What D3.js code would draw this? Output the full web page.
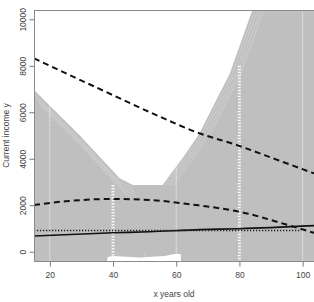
<!DOCTYPE html>
<html><head><meta charset="utf-8">
<script src="https://cdn.jsdelivr.net/npm/d3@7"></script>
<style>html,body{margin:0;padding:0;background:#fff;overflow:hidden}</style>
</head><body>
<svg id="c" width="314" height="302"></svg>
<script>
// ---- data ----
const xTicks = [20, 40, 60, 80, 100];
const yTicks = [0, 2000, 4000, 6000, 8000, 10000];
// grey band: upper boundary
const bandUpperAge = [15, 29.5, 42.1, 46.3, 55.7, 62.7, 67.4, 70.6, 73.7, 76.9, 84.1, 87, 104];
const bandUpperVal = [6960, 5000, 3160, 2870, 2870, 4160, 5095, 5968, 6800, 7650, 10400, 11500, 11500];
// grey band: lower boundary
const bandLowerAge = [104, 62, 61.4, 59.5, 56.3, 48.4, 40, 38.3, 36.7, 15];
const bandLowerVal = [-1500, -1500, -100, -100, -185, -250, -185, -228, -1500, -1500];
// curves
const dashTopAge = [15, 35, 55, 66, 80, 92, 103.6];
const dashTopVal = [8320, 7050, 5800, 5160, 4550, 3950, 3370];
const dashLowAge = [15, 25, 40, 52, 65, 80, 96, 103.6];
const dashLowVal = [2010, 2170, 2270, 2225, 2030, 1720, 1120, 810];
const solidAge = [15, 40, 51.6, 67.4, 80, 103.6];
const solidVal = [675, 815, 860, 950, 990, 1120];
const dotAge = [15, 99.5];
const dotVal = [910, 910];
// white streaks in the band
const thinStreakAges = [20, 50, 60, 100];
const thinStreakTops = [6300, -100, 3700, 10400];
const thickStreakAges = [40, 80];
const thickStreakTops = [2870, 8000];
const fanOffsets = [150, 320, 480, 650];

// ---- layout ----
const svg = d3.select('#c');
const L = 34, R = 314, T = 10, B = 261;
const x = d3.scaleLinear().domain([15, 103.6]).range([L, R]);
const y = d3.scaleLinear().domain([-400, 10400]).range([B, T]);

svg.append('defs').append('clipPath').attr('id', 'clip')
  .append('rect').attr('x', L).attr('y', T).attr('width', R - L + 5).attr('height', B - T);
const g = svg.append('g').attr('clip-path', 'url(#clip)');

const band = bandUpperAge.map((a, i) => [a, bandUpperVal[i]])
  .concat(bandLowerAge.map((a, i) => [a, bandLowerVal[i]]));
const line = d3.line().x(d => x(d[0])).y(d => y(d[1]));
g.append('path').attr('d', line(band) + 'Z').attr('fill', '#bfbfbf');

// fan streaks below the sloped edges
const leftEdge = bandUpperAge.slice(0, 4).map((a, i) => [a, bandUpperVal[i]]);
const rightEdge = bandUpperAge.slice(4, 11).map((a, i) => [a, bandUpperVal[i + 4]]);
fanOffsets.forEach((o, k) => {
  g.append('path').attr('d', line(leftEdge.map(p => [p[0] + k * 0.6, p[1] - o])))
    .attr('fill', 'none').attr('stroke', '#fff').attr('stroke-opacity', 0.35).attr('stroke-width', 0.7);
  g.append('path').attr('d', line(rightEdge.map(p => [p[0] + 0.8 + k * 0.9, p[1]])))
    .attr('fill', 'none').attr('stroke', '#fff').attr('stroke-opacity', 0.35).attr('stroke-width', 0.7);
});

thinStreakAges.forEach((a, i) => {
  g.append('line').attr('x1', x(a)).attr('x2', x(a)).attr('y1', y(thinStreakTops[i])).attr('y2', B)
    .attr('stroke', '#fff').attr('stroke-width', 1).attr('stroke-dasharray', '1.5,1').attr('stroke-opacity', a === 50 ? 0.4 : 0.75);
});
thickStreakAges.forEach((a, i) => {
  g.append('line').attr('x1', x(a)).attr('x2', x(a)).attr('y1', y(thickStreakTops[i])).attr('y2', B)
    .attr('stroke', '#fff').attr('stroke-width', 3).attr('stroke-opacity', 0.85).attr('stroke-dasharray', '1.5,1.5');
});

// curves
const mk = (ages, vals) => ages.map((a, i) => [a, vals[i]]);
const curve = d3.line().curve(d3.curveMonotoneX).x(d => x(d[0])).y(d => y(d[1]));
g.append('path').attr('d', curve(mk(dashTopAge, dashTopVal))).attr('fill', 'none')
  .attr('stroke', '#111').attr('stroke-width', 2).attr('stroke-dasharray', '6,4');
g.append('path').attr('d', curve(mk(dashLowAge, dashLowVal))).attr('fill', 'none')
  .attr('stroke', '#111').attr('stroke-width', 2).attr('stroke-dasharray', '6,4');
g.append('path').attr('d', curve(mk(solidAge, solidVal))).attr('fill', 'none')
  .attr('stroke', '#111').attr('stroke-width', 1.6);
g.append('path').attr('d', curve(mk(dotAge, dotVal))).attr('fill', 'none')
  .attr('stroke', '#222').attr('stroke-width', 1.4).attr('stroke-dasharray', '1.3,1.7');

// frame
svg.append('rect').attr('x', L + 0.5).attr('y', T + 0.5).attr('width', R - L + 4).attr('height', B - T)
  .attr('fill', 'none').attr('stroke', '#8a8a8a').attr('stroke-width', 1);

// axes
const font = 'Liberation Sans, Arial, sans-serif';
const xa = svg.append('g').attr('transform', `translate(0,${B + 0.5})`)
  .call(d3.axisBottom(x).tickValues(xTicks).tickSize(5).tickPadding(5).tickFormat(d3.format('d')));
xa.select('.domain').remove();
xa.selectAll('line').attr('stroke', '#777');
xa.selectAll('text').attr('font-family', font).attr('font-size', 8.5).attr('fill', '#444');

const ya = svg.append('g').attr('transform', `translate(${L + 0.5},0)`)
  .call(d3.axisLeft(y).tickValues(yTicks).tickSize(5).tickFormat(d3.format('d')));
ya.select('.domain').remove();
ya.selectAll('line').attr('stroke', '#777');
ya.selectAll('text').attr('font-family', font).attr('font-size', 8.5).attr('fill', '#444')
  .attr('text-anchor', 'middle').attr('x', 0).attr('y', -9).attr('dy', 0)
  .attr('transform', 'rotate(-90)');

svg.append('text').attr('x', (L + R) / 2).attr('y', 297).attr('text-anchor', 'middle')
  .attr('font-family', font).attr('font-size', 8.5).attr('fill', '#444').text('x years old');
svg.append('text').attr('transform', `translate(8.5,${(T + B) / 2}) rotate(-90)`).attr('text-anchor', 'middle')
  .attr('font-family', font).attr('font-size', 8.5).attr('fill', '#444').text('Current income y');
</script>
</body></html>
